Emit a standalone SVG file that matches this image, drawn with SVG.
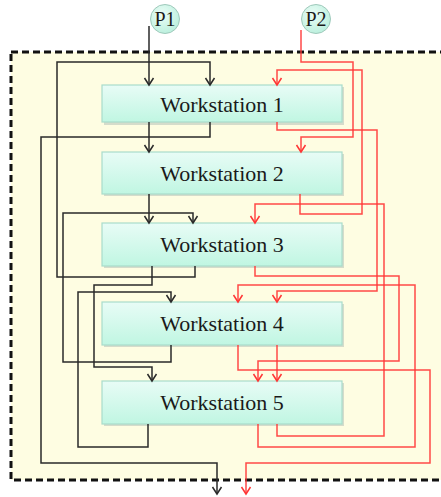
<svg xmlns="http://www.w3.org/2000/svg" width="441" height="497" viewBox="0 0 441 497">
<style>
.node rect.box{fill:url(#ng);stroke:#a9dccb;stroke-width:1.2}
.node rect.sh{fill:#b9c6bd;opacity:0.6}
.node text{font-family:"Liberation Serif","Times New Roman",serif;font-size:22px;fill:#1a1a1a;text-anchor:middle}
.pc circle{fill:url(#cg);stroke:#9fc9bb;stroke-width:1}
.pc text{font-family:"Liberation Serif","Times New Roman",serif;font-size:20px;fill:#1a1a1a;text-anchor:middle}
.k{fill:none;stroke:#2a2a2a;stroke-width:1.5;marker-end:url(#ak)}
.r{fill:none;stroke:#ff3535;stroke-width:1.5;stroke-opacity:0.9;marker-end:url(#ar)}
</style>
<defs>
<linearGradient id="ng" x1="0" y1="0" x2="0" y2="1">
<stop offset="0" stop-color="#e8fcf6"/>
<stop offset="1" stop-color="#c0f6e2"/>
</linearGradient>
<radialGradient id="cg" cx="0.4" cy="0.35" r="0.7">
<stop offset="0" stop-color="#ecfdf7"/>
<stop offset="1" stop-color="#b9efdc"/>
</radialGradient>
<marker id="ak" markerUnits="userSpaceOnUse" markerWidth="12" markerHeight="12" viewBox="-8 -6 10 12" refX="0" refY="0" orient="auto">
<path d="M-7,-4.5 L0,0 L-7,4.5" fill="none" stroke="#2a2a2a" stroke-width="1.5"/>
</marker>
<marker id="ar" markerUnits="userSpaceOnUse" markerWidth="12" markerHeight="12" viewBox="-8 -6 10 12" refX="0" refY="0" orient="auto">
<path d="M-7,-4.5 L0,0 L-7,4.5" fill="none" stroke="#ff3535" stroke-width="1.5"/>
</marker>
</defs>
<rect x="11" y="52" width="440" height="428" fill="#fefde2" stroke="#111" stroke-width="3" stroke-dasharray="7,4"/>

<g id="P1" class="pc"><circle cx="165" cy="19" r="14.5"/><text x="165" y="26">P1</text></g>
<g id="P2" class="pc"><circle cx="316" cy="19" r="14.5"/><text x="316" y="26">P2</text></g>

<g id="ws1" class="node"><rect class="sh" x="104" y="87" width="240" height="38"/><rect class="box" x="102" y="85" width="240" height="37"/><text x="222" y="112">Workstation 1</text></g>
<g id="ws2" class="node"><rect class="sh" x="104" y="154" width="240" height="42"/><rect class="box" x="102" y="152" width="240" height="42"/><text x="222" y="181">Workstation 2</text></g>
<g id="ws3" class="node"><rect class="sh" x="104" y="225" width="240" height="43"/><rect class="box" x="102" y="223" width="240" height="43"/><text x="222" y="252">Workstation 3</text></g>
<g id="ws4" class="node"><rect class="sh" x="104" y="304" width="240" height="43"/><rect class="box" x="102" y="302" width="240" height="43"/><text x="222" y="331">Workstation 4</text></g>
<g id="ws5" class="node"><rect class="sh" x="104" y="383" width="240" height="43"/><rect class="box" x="102" y="381" width="240" height="43"/><text x="222" y="410">Workstation 5</text></g>

<g id="connectors">
<path class="k" d="M149,26 V85"/>
<path class="k" d="M195,266 V277 H57 V62 H210 V85"/>
<path class="k" d="M149,122 V152"/>
<path class="k" d="M210,122 V137 H41 V463 H217 V494"/>
<path class="k" d="M149,194 V223"/>
<path class="k" d="M171,345 V362 H63 V213 H193 V223"/>
<path class="k" d="M152,266 V285 H94 V367 H152 V381"/>
<path class="k" d="M148,424 V447 H78 V292 H171 V302"/>

<path class="r" d="M301,30 V62 H353 V137 H301 V152"/>
<path class="r" d="M300,194 V214 H362 V70 H277 V85"/>
<path class="r" d="M277,122 V130 H377 V291 H277 V302"/>
<path class="r" d="M277,424 V436 H384 V204 H255 V223"/>
<path class="r" d="M255,266 V276 H399 V361 H258 V381"/>
<path class="r" d="M258,424 V447 H415 V285 H238 V302"/>
<path class="r" d="M238,345 V370 H430 V463 H246 V494"/>
<path class="r" d="M277,345 V381"/>
</g>
</svg>
